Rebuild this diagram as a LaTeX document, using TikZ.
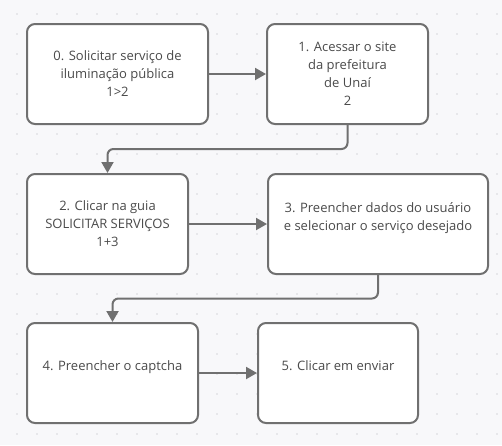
\documentclass[tikz,border=0pt]{standalone}
\usepackage{fontspec}
\setmainfont{Open Sans}
\usetikzlibrary{arrows.meta}
\definecolor{linegray}{HTML}{707070}
\definecolor{textgray}{HTML}{4A4A4A}
\definecolor{paper}{HTML}{F8F8FA}
\definecolor{dotgray}{HTML}{D6D6DA}

\begin{document}
\begin{tikzpicture}[
  x=1pt, y=-1pt,
  stepbox/.style={draw=linegray, line width=2pt, fill=white, rounded corners=8pt,
    text=textgray, align=center, font=\fontsize{13}{18}\selectfont, inner sep=0pt},
  conn/.style={draw=linegray, line width=2pt, rounded corners=6pt,
    -{Triangle[length=11pt,width=12pt]}},
  ]
  % Background and dot grid
  \fill[paper] (0,0) rectangle (502,445);
  \useasboundingbox (0,0) rectangle (502,445);
  \foreach \i in {0,...,24}
    \foreach \j in {0,...,21}
      \fill[dotgray] (17+20*\i,14+20*\j) circle (0.8pt);

  % Steps
  \node[stepbox, minimum width=181pt, minimum height=100pt] (s0) at (117.5,74)
    {0. Solicitar serviço de\\iluminação pública\\1>2};
  \node[stepbox, minimum width=161pt, minimum height=100pt] (s1) at (347.5,74)
    {1. Acessar o site\\da prefeitura\\de Unaí\\2};
  \node[stepbox, minimum width=161pt, minimum height=100pt] (s2) at (107.5,224)
    {2. Clicar na guia\\SOLICITAR SERVIÇOS\\1+3};
  \node[stepbox, minimum width=220pt, minimum height=100pt] (s3) at (378,224)
    {3. Preencher dados do usuário\\e selecionar o serviço desejado\\[-9pt]\strut};
  \node[stepbox, minimum width=171pt, minimum height=100pt] (s4) at (112.5,373)
    {4. Preencher o captcha\\[-9pt]\strut};
  \node[stepbox, minimum width=160pt, minimum height=100pt] (s5) at (338,373)
    {5. Clicar em enviar\\[-9pt]\strut};

  % Bends
  \coordinate (k1) at (347.5,149);
  \coordinate (k3) at (378,298.5);

  % Connectors
  \draw[conn] (s0) -- (s1);
  \draw[conn] (s1.south) -- (k1) -| (s2.north);
  \draw[conn] (s2) -- (s3);
  \draw[conn] (s3.south) -- (k3) -| (s4.north);
  \draw[conn] (s4) -- (s5);

\end{tikzpicture}
\end{document}
